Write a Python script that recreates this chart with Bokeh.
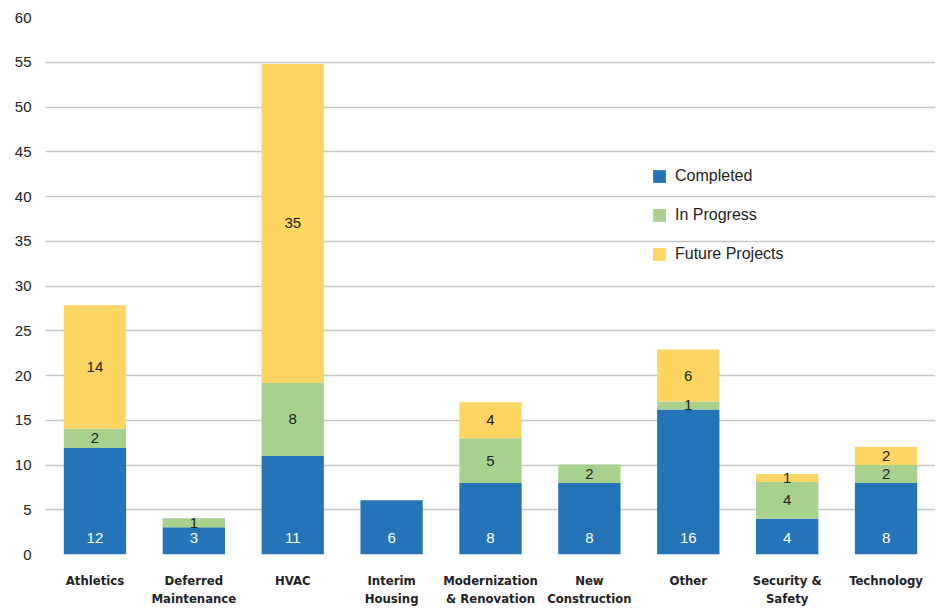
from bokeh.plotting import figure
from bokeh.models import ColumnDataSource, Legend, LegendItem, FixedTicker
from bokeh.core.properties import value
from bokeh.embed import file_html
from bokeh.resources import INLINE

categories = ["Athletics", "Deferred\nMaintenance", "HVAC", "Interim\nHousing",
              "Modernization\n& Renovation", "New\nConstruction", "Other",
              "Security &\nSafety", "Technology"]
completed = [11.9, 3.05, 11.0, 6.05, 8.0, 8.0, 16.2, 4.0, 8.0]
in_progress = [2.15, 1.0, 8.2, 0.0, 5.0, 2.05, 0.9, 4.1, 2.0]
future = [13.8, 0.0, 35.6, 0.0, 4.0, 0.0, 5.8, 0.9, 2.0]
completed_lbl = [12, 3, 11, 6, 8, 8, 16, 4, 8]
in_progress_lbl = [2, 1, 8, None, 5, 2, 1, 4, 2]
future_lbl = [14, None, 35, None, 4, None, 6, 1, 2]
series = ["Completed", "In Progress", "Future Projects"]
y_ticks = list(range(0, 61, 5))

BLUE = "#2474b7"
GREEN = "#a9d18e"
YELLOW = "#fdd563"
FONT = "Liberation Sans"
CAT_FONT = "DejaVu Sans Condensed"

src = ColumnDataSource(dict(cat=categories, completed=completed,
                            in_progress=in_progress, future=future))

p = figure(x_range=categories, y_range=(0, 60), width=938, height=608,
           output_backend="svg", toolbar_location=None,
           min_border_left=45, min_border_right=3, min_border_top=17,
           min_border_bottom=52)
p.outline_line_color = None
p.background_fill_color = "white"
p.border_fill_color = "white"

renderers = p.vbar_stack(["completed", "in_progress", "future"], x="cat",
                         width=0.63, color=[BLUE, GREEN, YELLOW],
                         line_color=None, source=src)

# value labels
cl = ColumnDataSource(dict(x=categories, y=[0] * len(categories),
                           t=[str(v) for v in completed_lbl]))
p.text(x="x", y="y", text="t", source=cl, text_align="center",
       text_baseline="middle", y_offset=-16.5, text_color="white",
       text_font=value(FONT), text_font_size="15px")

gx, gy, gt = [], [], []
for c, a, b, l in zip(categories, completed, in_progress, in_progress_lbl):
    if l is not None:
        gx.append(c); gy.append(a + b / 2); gt.append(str(l))
p.text(x=gx, y=gy, text=gt, text_align="center", text_baseline="middle",
       text_color="#222222", text_font=value(FONT), text_font_size="15px")

fx, fy, ft = [], [], []
for c, a, b, f, l in zip(categories, completed, in_progress, future, future_lbl):
    if l is not None:
        fx.append(c); fy.append(a + b + f / 2); ft.append(str(l))
p.text(x=fx, y=fy, text=ft, text_align="center", text_baseline="middle",
       text_color="#222222", text_font=value(FONT), text_font_size="15px")

# y axis
p.yaxis.ticker = FixedTicker(ticks=y_ticks)
p.yaxis.axis_line_color = None
p.yaxis.major_tick_line_color = None
p.yaxis.minor_tick_line_color = None
p.yaxis.major_tick_out = 0
p.yaxis.major_label_text_font = FONT
p.yaxis.major_label_text_font_size = "15px"
p.yaxis.major_label_text_color = "#222222"
p.yaxis.major_label_standoff = 14

# x axis
p.xaxis.axis_line_color = None
p.xaxis.major_tick_line_color = None
p.xaxis.major_tick_out = 0
p.xaxis.major_tick_in = 0
p.xaxis.major_label_text_font = CAT_FONT
p.xaxis.major_label_text_font_style = "bold"
p.xaxis.major_label_text_font_size = "13px"
p.xaxis.major_label_text_color = "#222222"
p.xaxis.major_label_standoff = 18
p.xaxis.major_label_text_line_height = 1.2

p.xgrid.grid_line_color = None
p.ygrid.grid_line_color = "#c8c8c8"
p.ygrid.grid_line_width = 1.5
p.x_range.range_padding = 0

legend = Legend(items=[LegendItem(label=s, renderers=[r]) for s, r in zip(series, renderers)],
                location=(606, 291), orientation="vertical",
                background_fill_alpha=0, border_line_alpha=0,
                glyph_width=16, glyph_height=16, label_height=16,
                spacing=21, padding=0, margin=0, label_standoff=8,
                label_text_font=FONT, label_text_font_size="16px",
                label_text_color="#222222")
p.add_layout(legend, "center")

open("out.html", "w").write(file_html(p, INLINE))
